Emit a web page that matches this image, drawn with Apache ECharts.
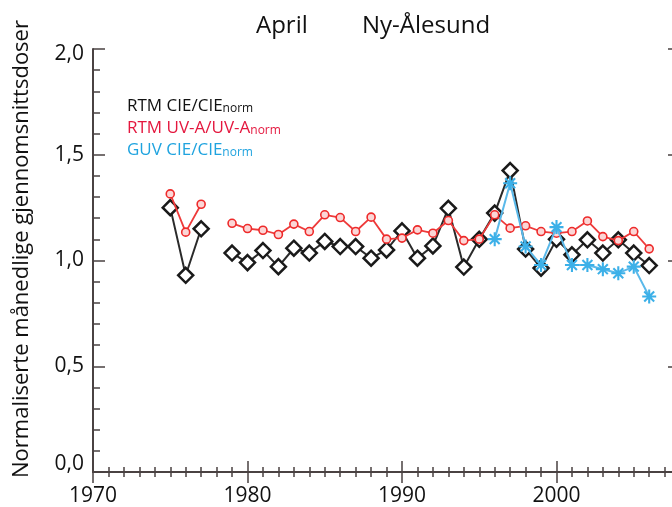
<!DOCTYPE html>
<html>
<head>
<meta charset="utf-8">
<script src="https://cdn.jsdelivr.net/npm/echarts@6/dist/echarts.min.js"></script>
<style>
  html, body { margin: 0; padding: 0; background: #fff; overflow: hidden; }
  /* the frame's right edge sits just past the visible 672 px */
  #chart { width: 730px; height: 507px; }
</style>
</head>
<body>
<div id="chart"></div>
<script>
// Monthly mean doses for April, Ny-Ålesund, normalised to the reference period
const years = [1975, 1976, 1977, 1978, 1979, 1980, 1981, 1982, 1983, 1984, 1985,
  1986, 1987, 1988, 1989, 1990, 1991, 1992, 1993, 1994, 1995, 1996, 1997, 1998,
  1999, 2000, 2001, 2002, 2003, 2004, 2005, 2006];

// RTM CIE / CIE_norm
const rtmCie = [1.25, 0.93, 1.15, null, 1.035, 0.99, 1.047, 0.971, 1.058, 1.035, 1.09,
  1.066, 1.066, 1.011, 1.05, 1.14, 1.011, 1.069, 1.247, 0.969, 1.10, 1.224, 1.425, 1.054,
  0.964, 1.10, 1.027, 1.098, 1.035, 1.098, 1.035, 0.976];

// RTM UV-A / UV-A_norm
const rtmUva = [1.315, 1.134, 1.266, null, 1.176, 1.151, 1.143, 1.123, 1.172, 1.137, 1.216,
  1.203, 1.137, 1.205, 1.101, 1.106, 1.145, 1.129, 1.189, 1.094, 1.101, 1.216, 1.153, 1.164,
  1.137, 1.129, 1.137, 1.187, 1.113, 1.094, 1.137, 1.055];

// GUV CIE / CIE_norm
const guvYears = [1996, 1997, 1998, 1999, 2000, 2001, 2002, 2003, 2004, 2005, 2006];
const guvCie = [1.101, 1.365, 1.066, 0.979, 1.158, 0.979, 0.979, 0.959, 0.940, 0.971, 0.830];

const yTicks = ['0,0', '0,5', '1,0', '1,5', '2,0'];
const xTicks = ['1970', '1980', '1990', '2000'];

const FONT = 'Open Sans';
const AXIS_COLOR = '#4a4242';

function pairs(xs, ys) {
  return xs.map((x, i) => [x, ys[i]]);
}

// Eight-armed asterisk marker built from four rotated bars
function asteriskPath() {
  const L = 10, W = 1.5;
  let d = '';
  [0, 45, 90, 135].forEach(deg => {
    const a = deg * Math.PI / 180, c = Math.cos(a), s = Math.sin(a);
    const pts = [[-L, -W], [L, -W], [L, W], [-L, W]].map(([px, py]) =>
      [(px * c - py * s).toFixed(3), (px * s + py * c).toFixed(3)]);
    d += 'M' + pts[0].join(' ') + ' L' + pts[1].join(' ') + ' L' + pts[2].join(' ') +
      ' L' + pts[3].join(' ') + ' Z ';
  });
  return 'path://' + d.trim();
}

function yLabel(v) {
  const idx = Math.round(v / 0.5);
  const t = yTicks[idx];
  if (idx === 0) return '{lo|' + t + '}';
  if (idx === 4) return '{hi|' + t + '}';
  return '{n|' + t + '}';
}

function xLabel(v) {
  const idx = Math.round((v - 1970) / 10);
  return xTicks[idx] !== undefined ? xTicks[idx] : '';
}

const labelFont = { fontFamily: FONT, fontSize: 21, color: '#111' };

const xBase = {
  type: 'value', min: 1970, max: 2010, interval: 10,
  axisLine: { show: true, lineStyle: { color: AXIS_COLOR, width: 2 } },
  axisTick: { show: true, inside: true, length: 11, lineStyle: { color: AXIS_COLOR, width: 1.5 } },
  minorTick: { show: true, splitNumber: 10, length: 5, lineStyle: { color: AXIS_COLOR, width: 1.5 } },
  splitLine: { show: false },
  minorSplitLine: { show: false }
};

const yBase = {
  type: 'value', min: 0, max: 2, interval: 0.5,
  axisLine: { show: true, lineStyle: { color: AXIS_COLOR, width: 2 } },
  axisTick: { show: true, inside: true, length: 12, lineStyle: { color: AXIS_COLOR, width: 1.5 } },
  minorTick: { show: true, splitNumber: 5, length: 7, lineStyle: { color: AXIS_COLOR, width: 1.5 } },
  splitLine: { show: false },
  minorSplitLine: { show: false }
};

function legendRow(y, main, color) {
  return {
    type: 'text', x: 127, y: y,
    style: {
      text: '{a|' + main + '}{s|norm}',
      verticalAlign: 'bottom',
      rich: {
        a: { fontFamily: FONT, fontSize: 17, lineHeight: 20, fill: color, color: color, verticalAlign: 'bottom' },
        s: { fontFamily: FONT, fontSize: 12, lineHeight: 14, fill: color, color: color, verticalAlign: 'bottom' }
      }
    }
  };
}

const chart = echarts.init(document.getElementById('chart'), null, { renderer: 'canvas' });

chart.setOption({
  animation: false,
  backgroundColor: '#fff',
  grid: { left: 93, top: 49, width: 618, height: 423, containLabel: false },
  xAxis: [
    Object.assign({}, xBase, {
      position: 'bottom',
      axisLabel: Object.assign({ margin: 14, showMaxLabel: false, formatter: xLabel }, labelFont)
    }),
    Object.assign({}, xBase, { position: 'top', axisLabel: { show: false } })
  ],
  yAxis: [
    Object.assign({}, yBase, {
      position: 'left',
      axisLabel: {
        margin: 9, formatter: yLabel,
        rich: {
          n: labelFont,
          lo: Object.assign({ padding: [0, 0, 16, 0] }, labelFont),
          hi: Object.assign({ padding: [10, 0, 0, 0] }, labelFont)
        }
      }
    }),
    Object.assign({}, yBase, { position: 'right', offset: -31, axisLabel: { show: false } })
  ],
  graphic: [
    { type: 'text', x: 256, y: 26, style: { text: 'April', fontFamily: FONT, fontSize: 24, fill: '#111', verticalAlign: 'middle' } },
    { type: 'text', x: 362, y: 26, style: { text: 'Ny-Ålesund', fontFamily: FONT, fontSize: 24, fill: '#111', verticalAlign: 'middle' } },
    {
      type: 'text', x: 22, y: 249, rotation: Math.PI / 2,
      style: {
        text: 'Normaliserte månedlige gjennomsnittsdoser', fontFamily: FONT, fontSize: 22,
        fill: '#111', align: 'center', verticalAlign: 'middle'
      }
    },
    legendRow(115, 'RTM CIE/CIE', '#111'),
    legendRow(136.7, 'RTM UV-A/UV-A', '#e4173e'),
    legendRow(158.4, 'GUV CIE/CIE', '#1fa3df')
  ],
  series: [
    {
      name: 'RTM CIE', type: 'line', data: pairs(years, rtmCie), connectNulls: false,
      symbol: 'diamond', symbolSize: 15, showAllSymbol: true,
      lineStyle: { color: '#2a2a2a', width: 2 },
      itemStyle: { color: '#fff', borderColor: '#1a1a1a', borderWidth: 2.5 },
      z: 2
    },
    {
      name: 'RTM UV-A', type: 'line', data: pairs(years, rtmUva), connectNulls: false,
      symbol: 'circle', symbolSize: 8, showAllSymbol: true,
      lineStyle: { color: '#ee3a3a', width: 1.8 },
      itemStyle: { color: '#fbd6d6', borderColor: '#ee2a2a', borderWidth: 1.6 },
      z: 3
    },
    {
      name: 'GUV CIE', type: 'line', data: pairs(guvYears, guvCie),
      symbol: asteriskPath(), symbolSize: 14, showAllSymbol: true,
      lineStyle: { color: '#5ab9ea', width: 2 },
      itemStyle: { color: '#3cb0e8', borderWidth: 0 },
      z: 4
    }
  ]
});
</script>
</body>
</html>
